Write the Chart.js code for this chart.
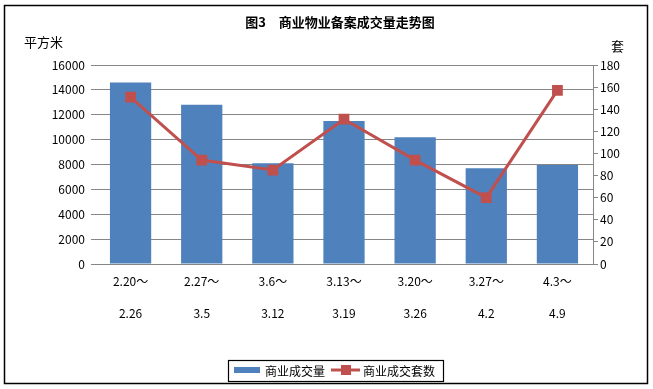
<!DOCTYPE html>
<html>
<head>
<meta charset="utf-8">
<script src="https://cdn.jsdelivr.net/npm/chart.js@4"></script>
<style>
  body { margin: 0; background: #fff; }
  #wrap { position: relative; width: 653px; height: 389px; }
</style>
</head>
<body>
<div id="wrap"><canvas id="miGrafico" width="653" height="389"></canvas></div>
<script>
var weeks = [['2.20～', '2.26'], ['2.27～', '3.5'], ['3.6～', '3.12'], ['3.13～', '3.19'],
             ['3.20～', '3.26'], ['3.27～', '4.2'], ['4.3～', '4.9']];
var area = [14600, 12800, 8100, 11500, 10200, 7700, 7950];   // 商业成交量 (平方米)
var units = [151, 94, 85, 131, 94, 60, 157];                  // 商业成交套数 (套)

var font = "'Noto Sans CJK SC', 'DejaVu Sans', sans-serif";
Chart.defaults.font.family = font;
Chart.defaults.font.size = 12;
Chart.defaults.color = '#000';

// marco, titulo, textos de ejes y leyenda
var extras = {
  id: 'extras',
  afterDraw: function (chart) {
    var c = chart.ctx;
    var ds = chart.data.datasets;
    c.save();
    c.strokeStyle = '#000';
    c.lineWidth = 1.5;
    c.strokeRect(4.5, 5.5, 643, 378);
    c.fillStyle = '#000';
    c.textBaseline = 'middle';
    c.textAlign = 'center';
    c.font = 'bold 13px ' + font;
    c.fillText('图3　商业物业备案成交量走势图', 340, 22);
    c.font = '13px ' + font;
    c.textAlign = 'left';
    c.fillText('平方米', 24, 42);
    c.fillText('套', 611, 46);

    // leyenda
    c.font = '12px ' + font;
    c.lineWidth = 1.2;
    c.strokeRect(228.5, 360.5, 215, 21);
    c.fillStyle = ds[1].backgroundColor;
    c.fillRect(234, 367, 26, 6);
    c.fillStyle = '#000';
    c.fillText(ds[1].label, 265, 371);
    c.strokeStyle = ds[0].borderColor;
    c.lineWidth = 3;
    c.beginPath();
    c.moveTo(331, 370);
    c.lineTo(360, 370);
    c.stroke();
    c.fillStyle = ds[0].backgroundColor;
    c.fillRect(341, 365, 10, 10);
    c.fillStyle = '#000';
    c.fillText(ds[0].label, 363, 371);
    c.restore();
  }
};

var ctx = document.getElementById('miGrafico').getContext('2d');
var miGrafico = new Chart(ctx, {
  type: 'bar',
  data: {
    labels: weeks,
    datasets: [{
      type: 'line',
      label: '商业成交套数',
      data: units,
      yAxisID: 'y1',
      borderColor: '#C0504D',
      backgroundColor: '#C0504D',
      borderWidth: 3,
      pointStyle: 'rect',
      pointRadius: 5.5,
      pointHoverRadius: 5.5,
      order: 0
    }, {
      label: '商业成交量',
      data: area,
      yAxisID: 'y',
      backgroundColor: '#4F81BD',
      categoryPercentage: 1,
      barPercentage: 0.58,
      order: 1
    }]
  },
  options: {
    responsive: false,
    animation: false,
    layout: { padding: { top: 65, left: 0, right: 0, bottom: 0 } },
    plugins: {
      tooltip: { enabled: false },
      legend: { display: false }
    },
    scales: {
      x: {
        grid: { display: false, drawTicks: false },
        border: { display: false },
        ticks: { padding: 2, font: { size: 12, lineHeight: 2.65 }, maxRotation: 0 },
        afterFit: function (s) { s.height = 125; }
      },
      y: {
        position: 'left',
        min: 0, max: 16000,
        ticks: { stepSize: 2000, padding: 6, callback: function (v) { return String(v); } },
        grid: { color: '#868686', lineWidth: 1, tickLength: 4 },
        border: { display: false },
        afterFit: function (s) { s.width = 95; }
      },
      y1: {
        position: 'right',
        min: 0, max: 180,
        ticks: { stepSize: 20, padding: 2 },
        grid: { drawOnChartArea: false, color: '#868686', tickLength: 5 },
        border: { display: true, color: '#868686' },
        afterFit: function (s) { s.width = 60; }
      }
    }
  },
  plugins: [extras]
});
</script>
</body>
</html>
